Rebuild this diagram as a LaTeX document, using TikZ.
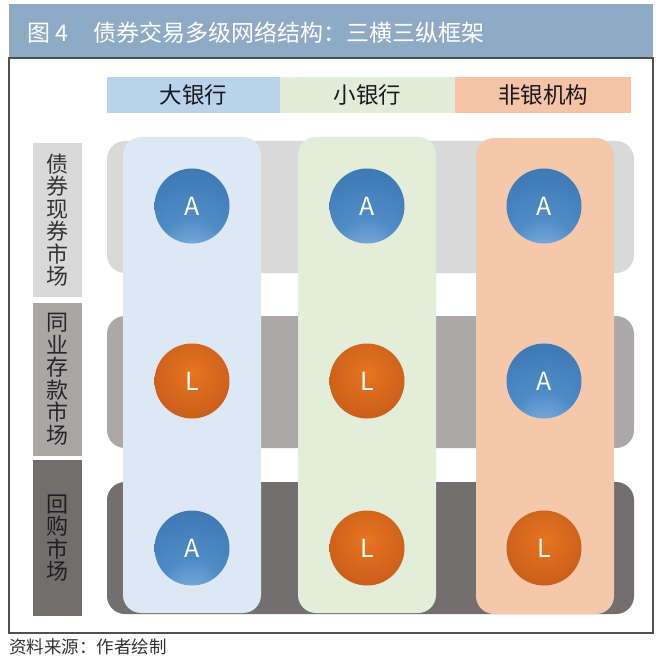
\documentclass[tikz,border=0pt]{standalone}
\usepackage{fontspec}
\setmainfont{Noto Sans CJK SC}
\definecolor{titlebg}{HTML}{8EABC6}
\definecolor{framec}{HTML}{505050}
\definecolor{hdrA}{HTML}{B9D3EA}
\definecolor{hdrB}{HTML}{E2EDD9}
\definecolor{hdrC}{HTML}{F5C4A6}
\definecolor{colA}{HTML}{DCE8F4}
\definecolor{colB}{HTML}{E2EDDA}
\definecolor{colC}{HTML}{F4C8AB}
\definecolor{bandI}{HTML}{D9D9D9}
\definecolor{bandII}{HTML}{ACA8A8}
\definecolor{bandIII}{HTML}{736F6F}
\definecolor{labI}{HTML}{D9D9D9}
\definecolor{labII}{HTML}{AAA6A6}
\definecolor{labIII}{HTML}{736E6E}
\definecolor{Ahi}{HTML}{8DBCE4}
\definecolor{Amid}{HTML}{4F8CC6}
\definecolor{Amid2}{HTML}{3A76B2}
\definecolor{Alo}{HTML}{2C649D}
\definecolor{Lhi}{HTML}{E6761F}
\definecolor{Lmid}{HTML}{CF611B}
\definecolor{Llo}{HTML}{B04D18}
\pgfdeclareradialshading{ballAshade}{\pgfpoint{0bp}{-38bp}}{color(0bp)=(Ahi); color(22bp)=(Amid); color(50bp)=(Amid2); color(88bp)=(Alo); color(100bp)=(Alo)}
\pgfdeclareradialshading{ballLshade}{\pgfpoint{0bp}{6bp}}{color(0bp)=(Lhi); color(25bp)=(Lmid); color(56bp)=(Llo); color(100bp)=(Llo)}
\begin{document}
\begin{tikzpicture}[x=1pt,y=-1pt,
  box/.style={rectangle, inner sep=0pt, outer sep=0pt},
  band/.style={box, rounded corners=18pt, minimum width=527pt, minimum height=132pt},
  colbox/.style={box, rounded corners=18pt, minimum width=138pt, minimum height=476pt},
  hdr/.style={box, minimum height=36pt, font=\fontsize{22.5}{24}\selectfont, text=black!90},
  lab/.style={box, minimum width=49pt, align=center, font=\fontsize{22}{22.5}\selectfont},
  ball/.style={circle, minimum size=75pt, inner sep=0pt, text=white, font=\fontsize{25}{25}\selectfont},
  ballA/.style={ball, shading=ballAshade},
  ballL/.style={ball, shading=ballLshade},
  ttl/.style={anchor=west, inner sep=0pt, text=white, font=\fontsize{23}{24}\selectfont}
]
\useasboundingbox[fill=white] (0,0) rectangle (660,660);
% title bar and frame
\node[box, fill=titlebg, minimum width=644pt, minimum height=54pt, anchor=north west] (title) at (9,4) {};
\node[box, draw=framec, line width=1.3pt, minimum width=644pt, minimum height=575pt, anchor=north west] (frame) at (9,58) {};
\node[ttl] (t1) at (27,33) {图 4};
\node[ttl] (t2) at (93,33) {债券交易多级网络结构：三横三纵框架};
% headers
\node[hdr, fill=hdrA, minimum width=173pt] (hA) at (193.5,95) {大银行};
\node[hdr, fill=hdrB, minimum width=175pt] (hB) at (367.5,95) {小银行};
\node[hdr, fill=hdrC, minimum width=176pt] (hC) at (543,95) {非银机构};
% row labels
\node[lab, fill=labI, minimum height=154pt, text=black!80] (l1) at (57.5,220) {债\\券\\现\\券\\市\\场};
\node[lab, fill=labII, minimum height=153pt, text=black!85] (l2) at (57.5,379) {同\\业\\存\\款\\市\\场};
\node[lab, fill=labIII, minimum height=156pt, text=black!88] (l3) at (57.5,538) {回\\购\\市\\场};
% row bands
\node[band, fill=bandI] (r1) at (370.5,207) {};
\node[band, fill=bandII] (r2) at (370.5,382) {};
\node[band, fill=bandIII] (r3) at (370.5,548) {};
% columns
\node[colbox, fill=colA] (c1) at (192,375) {};
\node[colbox, fill=colB] (c2) at (367,375) {};
\node[colbox, fill=colC] (c3) at (545,376) {};
% balls
\node[ballA] (b11) at (192,206) {A};
\node[ballA] (b12) at (367,206) {A};
\node[ballA] (b13) at (544,206) {A};
\node[ballL] (b21) at (192,381) {L};
\node[ballL] (b22) at (367,381) {L};
\node[ballA] (b23) at (544,381) {A};
\node[ballA] (b31) at (192,548) {A};
\node[ballL] (b32) at (367,548) {L};
\node[ballL] (b33) at (544,548) {L};
% source
\node[anchor=west, inner sep=0pt, font=\fontsize{17.5}{18}\selectfont, text=black!80] (src) at (9,647) {资料来源：作者绘制};
\end{tikzpicture}
\end{document}
